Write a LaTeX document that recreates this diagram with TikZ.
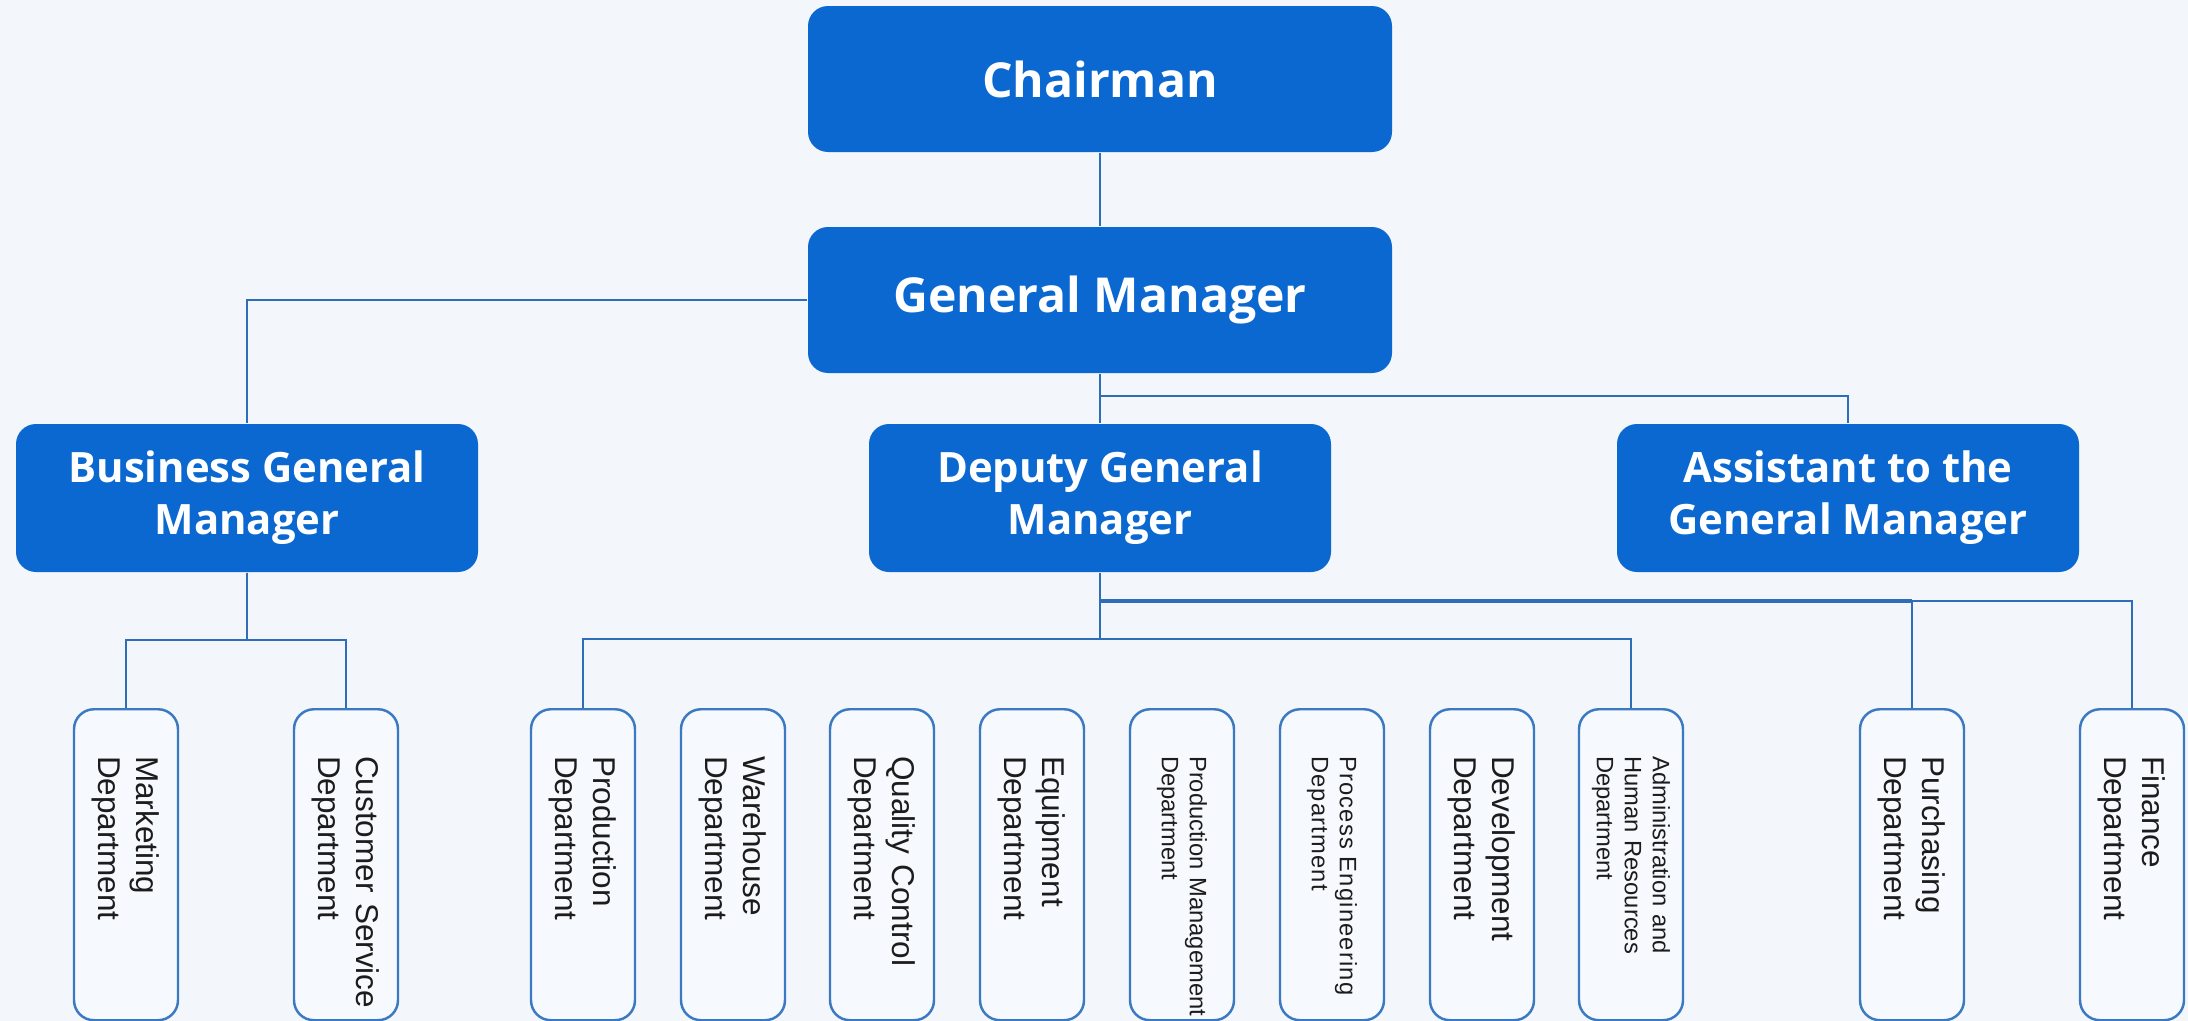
\documentclass[tikz,border=0pt]{standalone}
\usepackage{fontspec}
\setmainfont{Liberation Sans}
\newfontfamily\headfont{Open Sans}
\usepackage{tikz}
\definecolor{boxblue}{HTML}{0A68D0}
\definecolor{linkblue}{HTML}{2F6DB8}
\definecolor{deptline}{HTML}{3B79C3}
\definecolor{deptfill}{HTML}{F6F9FD}
\definecolor{bgtint}{HTML}{F3F6FA}
\definecolor{depttext}{HTML}{1C1C1C}
\tikzset{topbox/.style={rounded corners=2mm,fill=boxblue,text=white,minimum width=58.4mm,minimum height=14.6mm,inner sep=0pt,font=\headfont\bfseries\fontsize{13.7pt}{16pt}\selectfont}}
\tikzset{midbox/.style={topbox,minimum width=46.2mm,minimum height=14.8mm,align=center,font=\headfont\bfseries\fontsize{11.9pt}{14.8pt}\selectfont}}
\tikzset{deptbox/.style={rotate=-90,anchor=west,rounded corners=2mm,draw=deptline,line width=0.7pt,fill=deptfill,text=depttext,minimum width=31.1mm,minimum height=10.4mm,inner xsep=0.5mm,inner ysep=0pt,text width=30.1mm,align=left,execute at begin node={\leftskip=4.2mm\hyphenpenalty=10000},font=\fontsize{8.96pt}{10.8pt}\selectfont}}
\tikzset{smalldept/.style={deptbox,font=\fontsize{6.75pt}{8pt}\selectfont}}
\tikzset{link/.style={draw=linkblue,line width=0.55pt}}

\begin{document}
\begin{tikzpicture}[x=0.1mm,y=-0.1mm]
\fill[bgtint] (0,0) rectangle (2188,1021);
\useasboundingbox (0,0) rectangle (2188,1021);
% \draw[help lines,step=100] (0,0) grid (2188,1021);
\node (chair) [topbox] at (1100,79) {Chairman};
\node (gm) [topbox] at (1100,300) {General Manager};
\node (bgm) [midbox] at (247,498) {Business General\\Manager};
\node (dgm) [midbox] at (1100,498) {Deputy General\\Manager};
\node (agm) [midbox] at (1848,498) {Assistant to the\\General Manager};
%
\node (mkt) [deptbox] at (126,708) {Marketing\\Department};
\node (cs) [deptbox] at (346,708) {Customer~Service\\Department};
\node (prod) [deptbox] at (583,708) {Production\\Department};
\node (ware) [deptbox] at (733,708) {Warehouse\\Department};
\node (qc) [deptbox] at (882,708) {Quality Control\\Department};
\node (equip) [deptbox] at (1032,708) {Equipment\\Department};
\node (pmd) [smalldept] at (1182,708) {Production~Management\\Department};
\node (ped) [smalldept,font=\fontsize{6.75pt}{8pt}\selectfont\addfontfeature{LetterSpace=5}] at (1332,708) {Process~Engineering\\Department};
\node (dev) [deptbox] at (1482,708) {Development\\Department};
\node (admin) [smalldept] at (1631,708) {Administration and\\Human Resources\\Department};
\node (pur) [deptbox] at (1912,708) {Purchasing\\Department};
\node (fin) [deptbox] at (2132,708) {Finance\\Department};
%
\draw[link] (chair) -- (gm);
\draw[link] (gm.west) -| (bgm.north);
\draw[link] (gm.south) -- (dgm.north);
\draw[link] (gm.south) -- ++(0,22) -| (agm.north);
\draw[link] (bgm.south) -- ++(0,67) -| (mkt.west);
\draw[link] (bgm.south) -- ++(0,67) -| (cs.west);
\draw[link] (dgm.south) -- ++(0,66) -| (prod.west);
\draw[link] (dgm.south) -- ++(0,66) -| (admin.west);
\draw[link] (dgm.south) -- ++(0,28) coordinate (fork) -| (fin.west);
\draw[link] (fork) -| (pur.west);
\draw[link,line width=1.1pt] (fork) -- (fork -| pur.west);
\end{tikzpicture}
\end{document}
